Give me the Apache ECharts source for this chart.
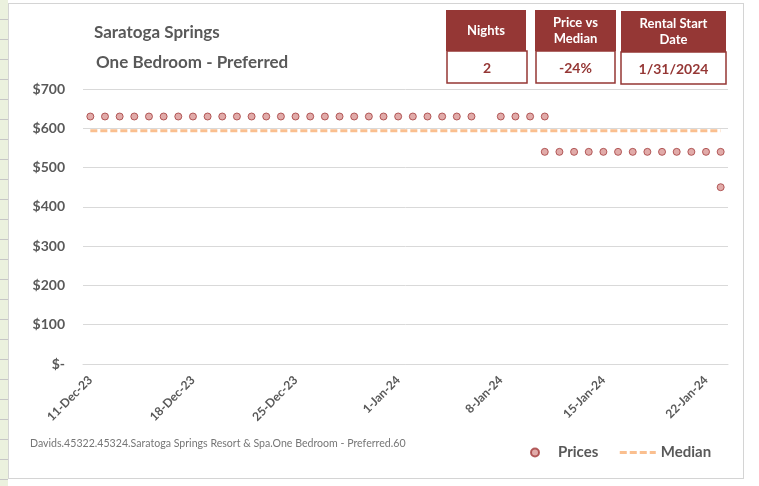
<!DOCTYPE html>
<html>
<head>
<meta charset="utf-8">
<script src="https://cdn.jsdelivr.net/npm/echarts@6/dist/echarts.min.js"></script>
<style>
    html, body { margin: 0; padding: 0; background: #fff; }
    body { width: 759px; height: 486px; position: relative; overflow: hidden; }
    .sheet-left {
        position: absolute; left: 0; top: 0; width: 8px; height: 486px;
        background: repeating-linear-gradient(#ebf1de 0, #ebf1de 19px, #c6c6c6 19px, #c6c6c6 20px);
    }
    #chart-wrap {
        position: absolute; left: 8px; top: 3px; width: 736px; height: 476px;
        border: 1px solid #d4d4d4; box-sizing: border-box; background: #fff;
    }
    #price-chart { width: 734px; height: 474px; }
</style>
</head>
<body>
<div class="sheet-left"></div>
<div id="chart-wrap"><div id="price-chart"></div></div>
<script>
var dates = [
    '11-Dec-23', '12-Dec-23', '13-Dec-23', '14-Dec-23', '15-Dec-23', '16-Dec-23', '17-Dec-23',
    '18-Dec-23', '19-Dec-23', '20-Dec-23', '21-Dec-23', '22-Dec-23', '23-Dec-23', '24-Dec-23',
    '25-Dec-23', '26-Dec-23', '27-Dec-23', '28-Dec-23', '29-Dec-23', '30-Dec-23', '31-Dec-23',
    '1-Jan-24', '2-Jan-24', '3-Jan-24', '4-Jan-24', '5-Jan-24', '6-Jan-24', '7-Jan-24',
    '8-Jan-24', '9-Jan-24', '10-Jan-24', '11-Jan-24', '12-Jan-24', '13-Jan-24', '14-Jan-24',
    '15-Jan-24', '16-Jan-24', '17-Jan-24', '18-Jan-24', '19-Jan-24', '20-Jan-24', '21-Jan-24',
    '22-Jan-24', '23-Jan-24'
];

// prices per night, one row per price level seen on a date (null = no listing)
var pricesHigh = [
    630, 630, 630, 630, 630, 630, 630,
    630, 630, 630, 630, 630, 630, 630,
    630, 630, 630, 630, 630, 630, 630,
    630, 630, 630, 630, 630, 630, null,
    630, 630, 630, 630, null, null, null,
    null, null, null, null, null, null, null,
    null, null
];
var pricesLow = [
    null, null, null, null, null, null, null,
    null, null, null, null, null, null, null,
    null, null, null, null, null, null, null,
    null, null, null, null, null, null, null,
    null, null, null, 540, 540, 540, 540,
    540, 540, 540, 540, 540, 540, 540,
    540, 540
];
var pricesLowest = [
    null, null, null, null, null, null, null,
    null, null, null, null, null, null, null,
    null, null, null, null, null, null, null,
    null, null, null, null, null, null, null,
    null, null, null, null, null, null, null,
    null, null, null, null, null, null, null,
    null, 450
];
var median = [
    594, 594, 594, 594, 594, 594, 594,
    594, 594, 594, 594, 594, 594, 594,
    594, 594, 594, 594, 594, 594, 594,
    594, 594, 594, 594, 594, 594, 594,
    594, 594, 594, 594, 594, 594, 594,
    594, 594, 594, 594, 594, 594, 594,
    594, 594
];

var yTicks = [0, 100, 200, 300, 400, 500, 600, 700];

var kpiLabels = ['Nights', 'Price vs\nMedian', 'Rental Start\nDate'];
var kpiValues = ['2', '-24%', '1/31/2024'];

var titleLines = ['Saratoga Springs', 'One Bedroom - Preferred'];
var footNote = 'Davids.45322.45324.Saratoga Springs Resort & Spa.One Bedroom - Preferred.60';

var chartObj = {
    font: 'Lato, "Open Sans", sans-serif',
    grey: '#595959',
    red: '#953735',
    orange: '#fabf8f',

    init: function(){
        this.chart = echarts.init(document.getElementById('price-chart'));
        this.chart.setOption(this.option());
    },

    // boxes for the little summary table at the top right
    kpiBoxes: function(){
        var that = this,
            boxes = [
                { x: 437, y: 6, w: 80, vx: 438, vy: 47, vw: 80 },
                { x: 526, y: 6, w: 81, vx: 527, vy: 47, vw: 79 },
                { x: 612, y: 7, w: 105, vx: 612, vy: 48, vw: 105 }
            ],
            out = [];

        boxes.forEach(function(b, i){
            out.push({
                type: 'rect',
                shape: { x: b.x, y: b.y, width: b.w, height: 41 },
                style: { fill: that.red }
            });
            out.push({
                type: 'text',
                x: b.x + b.w / 2, y: b.y + 21,
                style: {
                    text: kpiLabels[i], fill: '#fff', font: 'bold 13px ' + that.font,
                    align: 'center', verticalAlign: 'middle', lineHeight: 16
                }
            });
            out.push({
                type: 'rect',
                shape: { x: b.vx, y: b.vy, width: b.vw, height: 32 },
                style: { fill: '#fff', stroke: that.red, lineWidth: 1.5 }
            });
            out.push({
                type: 'text',
                x: b.vx + b.vw / 2, y: b.vy + 17,
                style: {
                    text: kpiValues[i], fill: that.red, font: 'bold 14px ' + that.font,
                    align: 'center', verticalAlign: 'middle'
                }
            });
        });
        return out;
    },

    option: function(){
        var that = this,
            weekly = function(idx){ return idx % 7 === 0; };

        var graphics = [
            {
                type: 'text', x: 85, y: 29,
                style: { text: titleLines[0], fill: that.grey, font: 'bold 17px ' + that.font, verticalAlign: 'middle' }
            },
            {
                type: 'text', x: 87, y: 59,
                style: { text: titleLines[1], fill: that.grey, font: 'bold 17px ' + that.font, verticalAlign: 'middle' }
            },
            {
                type: 'text', x: 21, y: 440,
                style: { text: footNote, fill: '#767676', font: '10.6px ' + that.font, verticalAlign: 'middle' }
            }
        ].concat(this.kpiBoxes());

        var dotStyle = { color: '#d99694', borderColor: '#a33b3b', borderWidth: 1 };

        return {
            animation: false,
            textStyle: { fontFamily: that.font },
            grid: { left: 74, right: 15, top: 85, bottom: 114 },
            legend: {
                left: 516, top: 436,
                itemWidth: 36, itemHeight: 8, itemGap: 20,
                textStyle: { color: that.grey, fontWeight: 'bold', fontSize: 15 },
                data: [
                    { name: 'Prices', icon: 'circle' },
                    {
                        name: 'Median',
                        itemStyle: { color: 'rgba(0,0,0,0)', borderColor: 'rgba(0,0,0,0)', borderWidth: 0 },
                        lineStyle: { color: that.orange, width: 3, type: [7, 3] }
                    }
                ]
            },
            xAxis: {
                type: 'category',
                data: dates,
                boundaryGap: true,
                axisLine: { lineStyle: { color: '#d9d9d9' } },
                axisTick: { interval: weekly, length: 5, lineStyle: { color: '#d9d9d9' } },
                axisLabel: {
                    interval: weekly, rotate: 45, margin: 14,
                    color: that.grey, fontWeight: 'bold', fontSize: 12
                },
                splitLine: { show: false }
            },
            yAxis: {
                type: 'value',
                min: yTicks[0], max: yTicks[yTicks.length - 1], interval: 100,
                axisLine: { show: false },
                axisTick: { show: false },
                axisLabel: {
                    margin: 18, color: that.grey, fontWeight: 'bold', fontSize: 14,
                    formatter: function(v){ return v === 0 ? '$-' : '$' + v; }
                },
                splitLine: { lineStyle: { color: '#d9d9d9' } }
            },
            series: [
                {
                    name: 'Median', type: 'line', data: median,
                    symbol: 'none', z: 1,
                    lineStyle: { color: that.orange, width: 3, type: [7, 3] },
                    itemStyle: { color: that.orange }
                },
                { name: 'Prices', type: 'scatter', data: pricesHigh, symbolSize: 7, itemStyle: dotStyle, z: 3 },
                { name: 'Prices', type: 'scatter', data: pricesLow, symbolSize: 7, itemStyle: dotStyle, z: 3 },
                { name: 'Prices', type: 'scatter', data: pricesLowest, symbolSize: 7, itemStyle: dotStyle, z: 3 }
            ],
            graphic: graphics
        };
    }
};

chartObj.init();
</script>
</body>
</html>
